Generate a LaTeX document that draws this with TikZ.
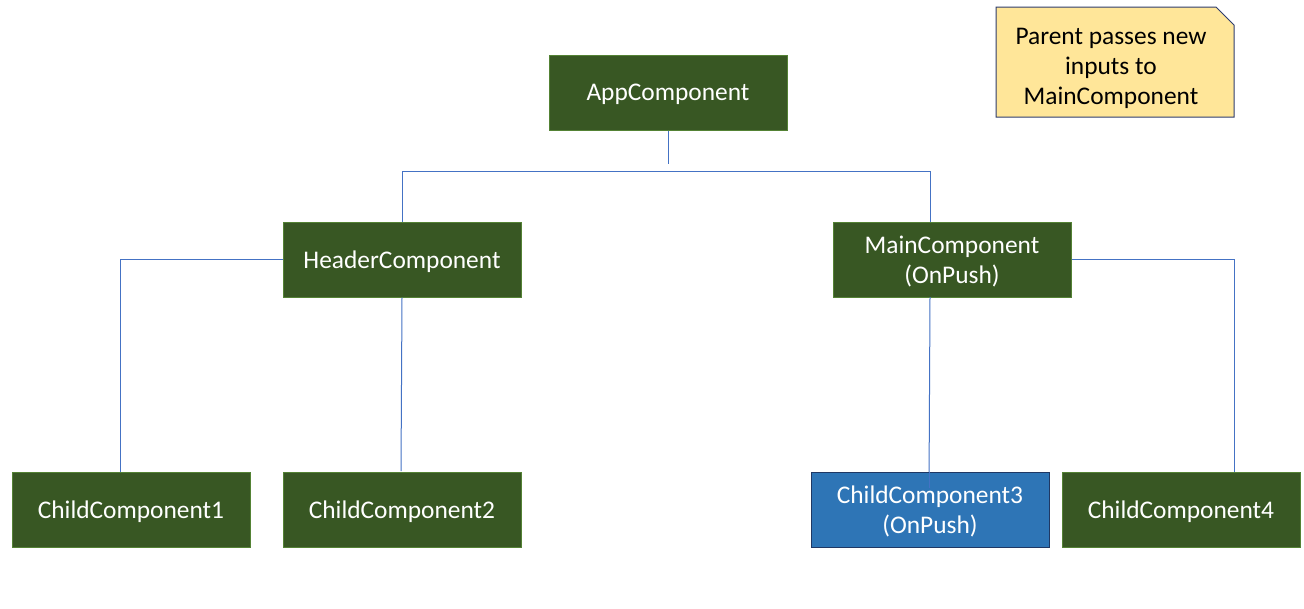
\documentclass[tikz,border=0pt]{standalone}
\usepackage{fontspec}
\setmainfont{Carlito}
\begin{document}
\begin{tikzpicture}[x=1pt,y=-1pt,
  comp/.style={draw=compgreenB, line width=1pt, fill=compgreen, text=white,
    minimum width=238pt, minimum height=75pt, inner sep=0pt, align=center,
    text depth=0pt, font=\fontsize{25.4}{30}\selectfont},
  compblue/.style={comp, fill=compblueC, draw=compblueB},
  conn/.style={draw=connblue, line width=1pt}]
\definecolor{compgreen}{HTML}{385723}
\definecolor{compgreenB}{HTML}{548235}
\definecolor{compblueC}{HTML}{2E75B6}
\definecolor{compblueB}{HTML}{1F3864}
\definecolor{connblue}{HTML}{4472C4}
\definecolor{notefill}{HTML}{FFE699}
\definecolor{noteedge}{HTML}{2F3D6E}
\useasboundingbox (0,0) rectangle (1304,608);
\fill[white] (0,0) rectangle (1304,608);
% nodes
\node[comp] (app) at (668,92.5) {AppComponent};
\node[comp] (hdr) at (402,259.5) {HeaderComponent};
\node[comp] (main) at (952,259.5) {MainComponent\\(OnPush)};
% connectors
\coordinate (append) at (668,164);
\coordinate (busL) at (402,171);
\coordinate (busR) at (930,171);
\coordinate (maintop) at (930,222);
\coordinate (c1in) at (120,478);
\coordinate (c1corner) at (120,259.5);
\coordinate (c2in) at (401,471);
\coordinate (mainbot) at (930,297);
\coordinate (c3in) at (929,488);
\coordinate (c4corner) at (1234,259.5);
\coordinate (c4in) at (1234,478);
\draw[conn] (app.south) -- (append);
\draw[conn] (hdr.north) -- (busL) -- (busR) -- (maintop);
\draw[conn] (hdr.west) -- (c1corner) -- (c1in);
\draw[conn] (hdr.south) -- (c2in);
\draw[conn] (mainbot) -- (c3in);
\draw[conn] (main.east) -- (c4corner) -- (c4in);
\node[comp] (c1) at (131,509.5) {ChildComponent1};
\node[comp] (c2) at (402,509.5) {ChildComponent2};
\node[compblue] (c3) at (930,509.5) {ChildComponent3\\(OnPush)};
\node[comp] (c4) at (1181,509.5) {ChildComponent4};
\draw[conn] (c3.north -| c3in) -- (c3in);
% note
\path[fill=notefill, draw=noteedge, line width=1pt]
  (996,7) -- (1216,7) -- (1234,25) -- (1234,117) -- (996,117) -- cycle;
\node[align=center, font=\fontsize{25.4}{30}\selectfont, text=black] (note) at (1111,68.5) {Parent passes new\\inputs to\\MainComponent};
\end{tikzpicture}
\end{document}
